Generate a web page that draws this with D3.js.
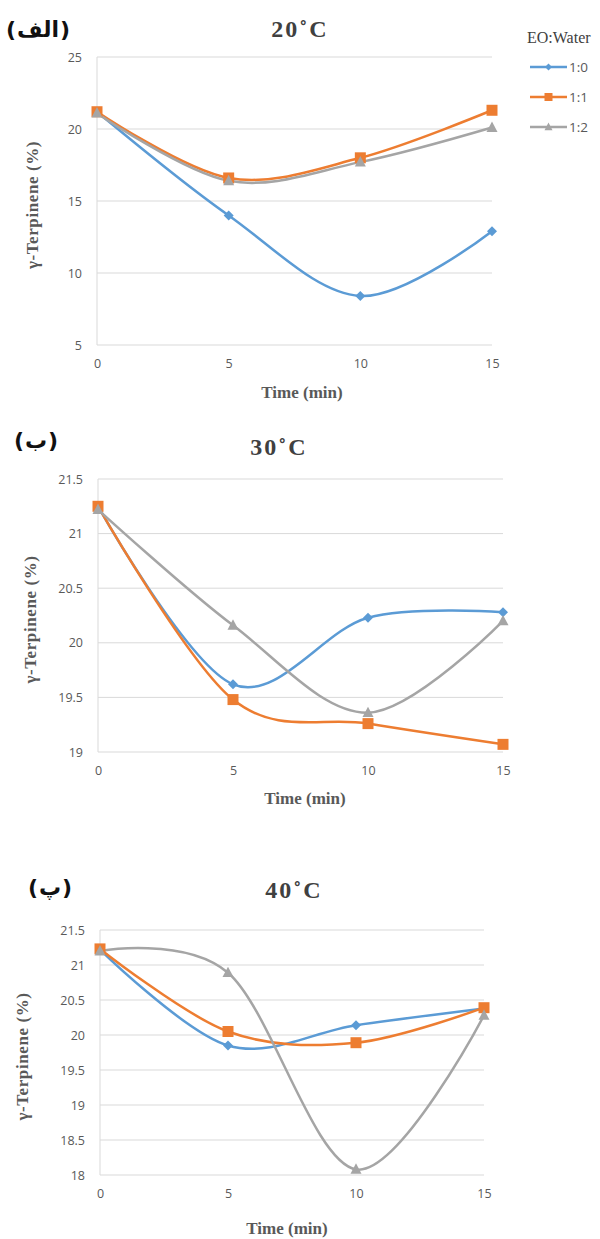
<!DOCTYPE html>
<html>
<head>
<meta charset="utf-8">
<script src="https://cdn.jsdelivr.net/npm/d3@7"></script>
<style>
  body { margin: 0; background: #fff; }
  svg { display: block; }
</style>
</head>
<body>
<svg id="chart" width="600" height="1239"></svg>
<script>
// shared x values and series
const times = [0, 5, 10, 15];
const xTicks = [0, 5, 10, 15];
const seriesNames = ["1:0", "1:1", "1:2"];
const seriesColors = ["#5b9bd5", "#ed7d31", "#a5a5a5"];
const seriesMarkers = ["diamond", "square", "triangle"];

// 20 °C
const t20Ratio10 = [21.2, 14.0, 8.4, 12.9];
const t20Ratio11 = [21.2, 16.6, 18.0, 21.3];
const t20Ratio12 = [21.1, 16.4, 17.7, 20.1];
const t20Ticks = [5, 10, 15, 20, 25];

// 30 °C
const t30Ratio10 = [21.25, 19.62, 20.23, 20.28];
const t30Ratio11 = [21.25, 19.48, 19.26, 19.07];
const t30Ratio12 = [21.22, 20.16, 19.36, 20.2];
const t30Ticks = [19, 19.5, 20, 20.5, 21, 21.5];

// 40 °C
const t40Ratio10 = [21.22, 19.85, 20.14, 20.38];
const t40Ratio11 = [21.23, 20.05, 19.89, 20.39];
const t40Ratio12 = [21.2, 20.89, 18.08, 20.28];
const t40Ticks = [18, 18.5, 19, 19.5, 20, 20.5, 21, 21.5];

const svg = d3.select("#chart");

const serifFont = "'Liberation Serif', 'DejaVu Serif', serif";
const sansFont = "'Open Sans', 'Liberation Sans', sans-serif";

const panels = [
  {
    title: "20˚C", tag: "الف", series: [t20Ratio10, t20Ratio11, t20Ratio12], ticks: t20Ticks,
    x0: 97, x1: 492, yTop: 57, yBot: 345,
    titleX: 300, titleY: 37, tagX: 38, tagY: 37,
    xLabelX: 302, xLabelY: 398, yLabelX: 38, legend: true
  },
  {
    title: "30˚C", tag: "ب", series: [t30Ratio10, t30Ratio11, t30Ratio12], ticks: t30Ticks,
    x0: 98, x1: 503, yTop: 479, yBot: 752,
    titleX: 279, titleY: 455, tagX: 36, tagY: 448,
    xLabelX: 305, xLabelY: 804, yLabelX: 36, legend: false
  },
  {
    title: "40˚C", tag: "پ", series: [t40Ratio10, t40Ratio11, t40Ratio12], ticks: t40Ticks,
    x0: 100, x1: 484, yTop: 930, yBot: 1175,
    titleX: 294, titleY: 898, tagX: 50, tagY: 895,
    xLabelX: 287, xLabelY: 1234, yLabelX: 28, legend: false
  }
];

function markerPath(type, size) {
  const s = size;
  if (type === "diamond") return `M0,${-s}L${s},0L0,${s}L${-s},0Z`;
  if (type === "square") return `M${-s},${-s}H${s}V${s}H${-s}Z`;
  return `M0,${-s * 1.1}L${s},${s * 0.8}L${-s},${s * 0.8}Z`;
}

function drawPanel(p) {
  const g = svg.append("g");
  const xScale = d3.scaleLinear().domain([0, 15]).range([p.x0, p.x1]);
  const yScale = d3.scaleLinear()
    .domain([p.ticks[0], p.ticks[p.ticks.length - 1]])
    .range([p.yBot, p.yTop]);

  // gridlines
  g.append("g")
    .selectAll("line")
    .data(p.ticks)
    .join("line")
    .attr("x1", p.x0).attr("x2", p.x1)
    .attr("y1", d => yScale(d)).attr("y2", d => yScale(d))
    .attr("stroke", "#d9d9d9").attr("stroke-width", 1);

  // vertical axis line
  g.append("line")
    .attr("x1", p.x0).attr("x2", p.x0)
    .attr("y1", p.yTop).attr("y2", p.yBot)
    .attr("stroke", "#d9d9d9");

  // y axis labels
  const yAxis = d3.axisLeft(yScale).tickValues(p.ticks).tickSize(0).tickPadding(15)
    .tickFormat(d3.format("~g"));
  const yAxisG = g.append("g").attr("transform", `translate(${p.x0},0)`).call(yAxis);
  yAxisG.select(".domain").remove();
  yAxisG.selectAll("text")
    .style("font-family", sansFont).style("font-size", "12.5px").attr("fill", "#595959");

  // x axis labels
  const xAxis = d3.axisBottom(xScale).tickValues(xTicks).tickSize(0).tickPadding(14);
  const xAxisG = g.append("g").attr("transform", `translate(0,${p.yBot})`).call(xAxis);
  xAxisG.select(".domain").remove();
  xAxisG.selectAll("text")
    .style("font-family", sansFont).style("font-size", "12.5px").attr("fill", "#595959");

  // lines
  const line = d3.line()
    .x((d, i) => xScale(times[i]))
    .y(d => yScale(d))
    .curve(d3.curveCardinal.tension(0));

  p.series.forEach((vals, si) => {
    g.append("path")
      .attr("d", line(vals))
      .attr("fill", "none")
      .attr("stroke", seriesColors[si])
      .attr("stroke-width", 2.5);
  });
  p.series.forEach((vals, si) => {
    g.append("g")
      .selectAll("path")
      .data(vals)
      .join("path")
      .attr("transform", (d, i) => `translate(${xScale(times[i])},${yScale(d)})`)
      .attr("d", markerPath(seriesMarkers[si], si === 0 ? 5 : 5.5))
      .attr("fill", seriesColors[si]);
  });

  // title
  g.append("text")
    .attr("x", p.titleX).attr("y", p.titleY)
    .attr("text-anchor", "middle")
    .style("font-family", serifFont).style("font-size", "24px").style("font-weight", "bold")
    .style("letter-spacing", "2px")
    .attr("fill", "#404040")
    .text(p.title);

  // panel tag: parentheses placed on either side of the Arabic letters
  const tagG = g.append("g");
  const tagStyle = sel => sel
    .style("font-family", "'DejaVu Sans', sans-serif").style("font-size", "22px")
    .style("font-weight", "bold").attr("fill", "#111").attr("y", p.tagY);
  const word = tagG.append("text").attr("direction", "rtl").call(tagStyle).text(p.tag);
  const open = tagG.append("text").call(tagStyle).text("(");
  const close = tagG.append("text").call(tagStyle).text(")");
  const ww = word.node().getComputedTextLength();
  const pw = open.node().getComputedTextLength();
  const total = ww + 2 * pw + 2;
  const left = p.tagX - total / 2;
  open.attr("x", left);
  word.attr("text-anchor", "start").attr("x", left + pw + 1 + ww);
  close.attr("x", left + pw + 2 + ww);

  // axis titles
  g.append("text")
    .attr("x", p.xLabelX).attr("y", p.xLabelY)
    .attr("text-anchor", "middle")
    .style("font-family", serifFont).style("font-size", "17px").style("font-weight", "bold")
    .attr("fill", "#595959")
    .text("Time (min)");

  g.append("text")
    .attr("transform", `translate(${p.yLabelX},${(p.yTop + p.yBot) / 2 + 4}) rotate(-90)`)
    .attr("text-anchor", "middle")
    .style("font-family", serifFont).style("font-size", "17px").style("font-weight", "bold")
    .style("letter-spacing", "0.6px")
    .attr("fill", "#595959")
    .text("γ-Terpinene (%)");

  if (p.legend) {
    const lg = g.append("g");
    lg.append("text")
      .attr("x", 527).attr("y", 43)
      .style("font-family", serifFont).style("font-size", "16px")
      .attr("fill", "#404040")
      .text("EO:Water");
    seriesNames.forEach((name, si) => {
      const y = 67 + si * 30;
      lg.append("line")
        .attr("x1", 530).attr("x2", 567).attr("y1", y).attr("y2", y)
        .attr("stroke", seriesColors[si]).attr("stroke-width", 2.5);
      lg.append("path")
        .attr("transform", `translate(548.5,${y})`)
        .attr("d", markerPath(seriesMarkers[si], si === 0 ? 3.5 : 4))
        .attr("fill", seriesColors[si]);
      lg.append("text")
        .attr("x", 569).attr("y", y + 5)
        .style("font-family", sansFont).style("font-size", "13.5px")
        .attr("fill", "#595959")
        .text(name);
    });
  }
}

panels.forEach(drawPanel);
</script>
</body>
</html>
